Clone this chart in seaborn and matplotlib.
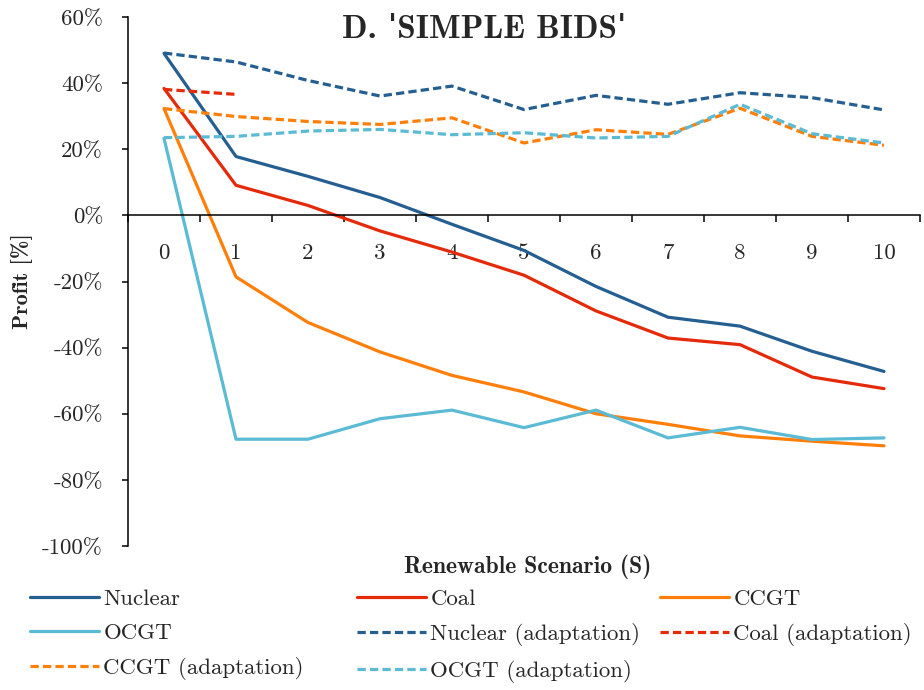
import pandas as pd
import matplotlib
matplotlib.use("Agg")
import matplotlib.pyplot as plt
import seaborn as sns

scenarios = list(range(11))

nuclear = [49.0, 17.8, 11.8, 5.4, -2.7, -10.6, -21.5, -30.8, -33.5, -41.1, -47.2]
coal = [38.4, 9.1, 3.0, -4.7, -11.1, -18.1, -28.9, -37.1, -39.1, -48.9, -52.4]
ccgt = [32.3, -18.6, -32.4, -41.3, -48.4, -53.4, -60.0, -63.2, -66.7, -68.3, -69.7]
ocgt = [23.3, -67.7, -67.7, -61.5, -58.9, -64.2, -58.9, -67.3, -64.1, -67.8, -67.3]

nuclear_ad = [49.1, 46.4, 40.8, 36.1, 39.1, 32.0, 36.3, 33.6, 37.1, 35.6, 31.9]
coal_ad = [38.1, 36.6]
ccgt_ad = [32.3, 29.9, 28.4, 27.5, 29.5, 21.9, 25.9, 24.5, 32.4, 23.9, 21.2]
ocgt_ad = [23.5, 23.9, 25.5, 26.0, 24.4, 25.0, 23.4, 23.9, 33.6, 24.7, 21.9]

y_ticks = [-100, -80, -60, -40, -20, 0, 20, 40, 60]

series = [
    ("Nuclear", nuclear, "#255e91", "-"),
    ("Coal", coal, "#e42a08", "-"),
    ("CCGT", ccgt, "#ff7f0a", "-"),
    ("OCGT", ocgt, "#5bbad4", "-"),
    ("Nuclear (adaptation)", nuclear_ad, "#255e91", "--"),
    ("Coal (adaptation)", coal_ad, "#e42a08", "--"),
    ("CCGT (adaptation)", ccgt_ad, "#ff7f0a", "--"),
    ("OCGT (adaptation)", ocgt_ad, "#5bbad4", "--"),
]

sns.set_style("white")
plt.rcParams["font.family"] = ["cmr10", "DejaVu Serif"]
plt.rcParams["axes.formatter.use_mathtext"] = True
plt.rcParams["mathtext.fontset"] = "cm"
bold = ["cmb10", "DejaVu Serif"]

fig = plt.figure(figsize=(9.24, 6.9), dpi=100)
ax = fig.add_axes([128 / 924, 144 / 690, 792 / 924, 529 / 690])

handles = {}
for name, vals, col, ls in series:
    df = pd.DataFrame({"S": scenarios[:len(vals)], "Profit": vals})
    dash = (0, (2.6, 1.3)) if ls == "--" else "-"
    sns.lineplot(data=df, x="S", y="Profit", color=col, linestyle=dash,
                 linewidth=2.3, ax=ax)
    handles[name] = ax.lines[-1]

ax.set_xlim(-0.5, 10.5)
ax.set_ylim(-100, 60)
ax.set_yticks(y_ticks)
ax.set_yticklabels([f"{v}%" for v in y_ticks])
ax.set_xticks(scenarios)
ax.set_xticklabels([str(s) for s in scenarios])
ax.set_xticks([s - 0.5 for s in range(12)], minor=True)

for side in ["top", "right"]:
    ax.spines[side].set_visible(False)
ax.spines["bottom"].set_position(("data", 0))
for side in ["left", "bottom"]:
    ax.spines[side].set_color("black")
    ax.spines[side].set_linewidth(1.1)

ax.tick_params(axis="x", which="major", length=0, pad=20, labelsize=16.5)
ax.tick_params(axis="x", which="minor", length=5, width=1.1, direction="out",
               color="black", bottom=True)
ax.tick_params(axis="y", length=4, width=1.1, direction="out", color="black",
               pad=14, labelsize=16.5, left=True)

ax.set_xlabel("Renewable Scenario (S)", family=bold, fontsize=17, va="center")
ax.xaxis.set_label_coords(0.505, -0.04)
ax.set_ylabel("Profit [%]", family=bold, fontsize=16, va="center")
ax.yaxis.set_label_coords(-0.134, 0.5)

# straight apostrophes (cmb10 only has the curly one)
fig.text(484 / 924, 1 - 30 / 690, "D. \u02c8SIMPLE BIDS\u02c8", family=bold,
         fontsize=24, fontweight="bold", ha="center", va="center")

columns = [
    (30, ["Nuclear", "OCGT", "CCGT (adaptation)"]),
    (357, ["Coal", "Nuclear (adaptation)", "OCGT (adaptation)"]),
    (660, ["CCGT", "Coal (adaptation)"]),
]
for x0, names in columns:
    fig.legend([handles[n] for n in names], names, loc="upper left",
               bbox_to_anchor=(x0 / 924, 1 - 589 / 690), frameon=False,
               fontsize=16.5, handlelength=3.0, handletextpad=0.2,
               labelspacing=0.62, borderpad=0, borderaxespad=0)

fig.savefig("out.png", dpi=100)
